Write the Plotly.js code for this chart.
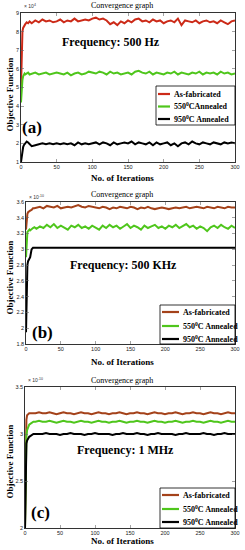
<!DOCTYPE html>
<html><head><meta charset="utf-8">
<script src="https://cdn.plot.ly/plotly-3.0.1.min.js"></script>
<style>html,body{margin:0;padding:0;background:#fff}#c{width:245px;height:550px}</style>
</head><body><div id="c"></div>
<script>
// ---- data ----
const iterations = [0,1,2,3,4,5,6,8,10,12,15,20,25,30,35,40,45,50,55,60,65,70,75,80,85,90,95,100,105,110,115,120,125,130,135,140,145,150,155,160,165,170,175,180,185,190,195,200,205,210,215,220,225,230,235,240,245,250,255,260,265,270,275,280,285,290,295,300];

// Panel (a) 500 Hz, units of 1e4
const a_asfab = [5.0,7.2,8.0,8.2,8.3,8.35,8.4,8.5,8.45,8.55,
 8.45,8.6,8.5,8.65,8.55,8.6,8.5,8.55,8.65,8.5,8.6,8.55,8.7,8.55,8.6,8.65,8.6,8.7,8.75,8.65,8.7,8.6,8.4,8.5,8.35,8.55,8.45,8.6,8.5,8.65,8.7,8.55,8.6,8.5,8.65,8.55,8.6,8.45,8.55,8.6,8.5,8.7,8.35,8.6,8.55,8.5,8.6,8.45,8.55,8.6,8.5,8.55,8.45,8.6,8.5,8.4,8.55,8.6];
const a_550 = [4.2,5.0,5.4,5.6,5.7,5.75,5.7,5.75,5.8,5.7,
 5.75,5.8,5.7,5.75,5.8,5.7,5.75,5.8,5.75,5.7,5.8,5.65,5.75,5.8,5.7,5.75,5.85,5.8,5.75,5.85,5.8,5.7,5.85,5.75,5.8,5.7,5.75,5.8,5.7,5.85,5.9,5.8,5.75,5.85,5.7,5.8,5.75,5.7,5.8,5.75,5.85,5.7,5.8,5.75,5.7,5.8,5.75,5.85,5.7,5.8,5.75,5.8,5.7,5.85,5.75,5.8,5.7,5.75];
const a_950 = [1.0,1.4,1.6,1.8,1.9,1.95,2.0,2.1,2.05,1.95,
 1.85,1.9,1.95,2.0,1.95,2.0,1.95,2.0,1.95,2.0,1.95,2.0,1.9,2.05,1.95,2.0,1.95,2.0,2.05,1.95,2.05,2.0,1.9,2.05,1.95,2.0,2.05,2.0,2.1,1.95,2.05,2.0,1.95,2.05,1.9,2.05,1.95,2.0,2.05,1.9,2.0,1.85,2.0,2.05,1.95,2.1,2.0,1.95,2.05,2.0,1.95,2.05,2.0,1.95,2.05,2.0,2.05,2.0];

// Panel (b) 500 KHz, units of 1e-10
const b_asfab = [3.25,3.4,3.45,3.47,3.48,3.48,3.49,3.5,3.52,3.52,
 3.53,3.54,3.52,3.55,3.54,3.53,3.55,3.52,3.53,3.54,3.53,3.55,3.56,3.54,3.53,3.55,3.54,3.53,3.52,3.54,3.53,3.51,3.53,3.52,3.54,3.53,3.52,3.54,3.53,3.51,3.53,3.52,3.54,3.52,3.51,3.52,3.53,3.52,3.51,3.52,3.53,3.52,3.53,3.54,3.52,3.53,3.54,3.53,3.52,3.54,3.53,3.52,3.54,3.53,3.52,3.54,3.53,3.53];
const b_550 = [2.9,3.15,3.22,3.23,3.24,3.25,3.24,3.26,3.27,3.28,
 3.26,3.29,3.27,3.31,3.28,3.32,3.27,3.3,3.28,3.25,3.3,3.28,3.31,3.27,3.29,3.26,3.3,3.28,3.25,3.3,3.27,3.31,3.28,3.3,3.26,3.29,3.32,3.27,3.3,3.28,3.25,3.3,3.27,3.29,3.31,3.27,3.29,3.26,3.3,3.28,3.31,3.27,3.29,3.32,3.28,3.3,3.26,3.29,3.27,3.23,3.28,3.3,3.27,3.31,3.28,3.26,3.3,3.27];
const b_950 = [1.95,2.6,2.8,2.85,2.87,2.88,2.9,3.0,3.02,3.02,
 3.02,3.02,3.02,3.02,3.02,3.02,3.02,3.02,3.02,3.02,3.02,3.02,3.02,3.02,3.02,3.02,3.02,3.02,3.02,3.02,3.02,3.02,3.02,3.02,3.02,3.02,3.02,3.02,3.02,3.02,3.02,3.02,3.02,3.02,3.02,3.02,3.02,3.02,3.02,3.02,3.02,3.02,3.02,3.02,3.02,3.02,3.02,3.02,3.02,3.02,3.02,3.02,3.02,3.02,3.02,3.02,3.02,3.02];

// Panel (c) 1 MHz, units of 1e-10
const c_asfab = [2.0,2.9,3.15,3.2,3.21,3.22,3.22,3.22,3.22,3.22,
 3.22,3.23,3.22,3.22,3.23,3.22,3.21,3.22,3.23,3.22,3.22,3.21,3.22,3.23,3.22,3.22,3.21,3.22,3.23,3.22,3.22,3.21,3.22,3.22,3.23,3.22,3.21,3.22,3.22,3.23,3.22,3.22,3.21,3.22,3.23,3.22,3.22,3.21,3.22,3.22,3.23,3.22,3.21,3.22,3.22,3.23,3.22,3.22,3.21,3.22,3.23,3.22,3.22,3.21,3.22,3.23,3.22,3.22];
const c_550 = [2.0,2.85,2.98,3.04,3.07,3.09,3.1,3.11,3.12,3.13,
 3.13,3.14,3.13,3.13,3.14,3.13,3.12,3.13,3.14,3.13,3.13,3.12,3.13,3.14,3.13,3.13,3.12,3.13,3.14,3.13,3.13,3.12,3.13,3.13,3.14,3.13,3.12,3.13,3.13,3.14,3.13,3.13,3.12,3.13,3.14,3.13,3.13,3.12,3.13,3.13,3.14,3.13,3.12,3.13,3.13,3.14,3.13,3.13,3.12,3.13,3.14,3.13,3.13,3.12,3.13,3.14,3.13,3.13];
const c_950 = [2.0,2.8,2.9,2.93,2.95,2.96,2.97,2.98,2.99,3.0,
 3.0,3.0,3.0,3.01,3.0,3.0,3.0,2.99,3.0,3.0,3.01,3.0,3.0,3.0,2.99,3.0,3.0,3.01,3.0,3.0,3.0,3.0,2.99,3.0,3.0,3.01,3.0,3.0,3.0,3.01,3.0,3.0,2.99,3.0,3.0,3.01,3.0,3.0,3.0,3.0,2.99,3.0,3.0,3.01,3.0,3.0,3.0,3.0,3.01,3.0,3.0,2.99,3.0,3.0,3.01,3.0,3.0,3.0];

const seriesNames = ["As-fabricated","550<sup>0</sup>C Annealed","950<sup>0</sup>C Annealed"];
const seriesNamesA = ["As-fabricated","550<sup>0</sup>CAnnealed","950<sup>0</sup>C Annealed"];
const frequencies = ["Frequency: 500 Hz","Frequency: 500 KHz","Frequency: 1 MHz"];
const panelLabels = ["(a)","(b)","(c)"];
const exponents = ["× 10<sup>4</sup>","× 10<sup>-10</sup>","× 10<sup>-10</sup>"];

// ---- layout helpers ----
const W=245,H=550;
const px=x=>x/W, py=y=>1-y/H;
const SERIF="Liberation Serif, Times New Roman, serif";
const SANS="Liberation Sans, Arial, sans-serif";
const colA=["#cc2a18","#4fc61c","#000000"];
const colB=["#a4421a","#4fc61c","#000000"];

const traces=[];
function addPanel(k, ys, cols){
  const xa = k===0?'x':'x'+(k+1), ya = k===0?'y':'y'+(k+1);
  ys.forEach((y,i)=>traces.push({x:iterations,y:y,xaxis:xa,yaxis:ya,type:'scatter',mode:'lines',
    line:{color:cols[i],width:2},showlegend:false,hoverinfo:'skip'}));
}
addPanel(0,[a_asfab,a_550,a_950],colA);
addPanel(1,[b_asfab,b_550,b_950],colB);
addPanel(2,[c_asfab,c_550,c_950],colB);

const axBase={showline:true,linecolor:'#000',linewidth:0.8,mirror:'ticks',ticks:'inside',ticklen:3,tickwidth:0.6,tickcolor:'#666',
  showgrid:false,zeroline:false,tickfont:{family:SANS,size:5.5,color:'#222'},automargin:false};

const panels=[
  {x0:21,x1:235,top:13,bot:162,yr:[1,9],dt:1,title:6,xt:178,yt:95,freq:[111,42],lab:[32,127],exp:[22,6],
   leg:{x0:156,x1:235,y0:86,y1:125,rows:[94,106.5,119],l0:158,l1:170,t:172},cols:colA,names:seriesNamesA},
  {x0:26,x1:235,top:202,bot:344,yr:[1.8,3.6],dt:0.2,title:195,xt:362,yt:278,freq:[124,265],lab:[42,332],exp:[27,197],
   leg:{x0:160,x1:235,y0:305,y1:344,rows:[312,326,339],l0:162,l1:179,t:181},cols:colB,names:seriesNames},
  {x0:25,x1:235,top:387,bot:528,yr:[2,3.5],dt:0.5,title:380,xt:541,yt:462,freq:[125,450],lab:[40,512],exp:[26,380],
   leg:{x0:160,x1:235,y0:488,y1:528,rows:[495,509,522],l0:162,l1:179,t:181},cols:colB,names:seriesNames}
];

const layout={width:W,height:H,margin:{l:0,r:0,t:0,b:0},paper_bgcolor:'#fff',plot_bgcolor:'#fff',showlegend:false,
  annotations:[],shapes:[]};
function ann(x,y,text,font,extra){
  return Object.assign({xref:'paper',yref:'paper',x:px(x),y:py(y),text:text,showarrow:false,xanchor:'center',yanchor:'middle',font:font},extra||{});
}
panels.forEach((p,k)=>{
  const s=k===0?'':(k+1);
  layout['xaxis'+s]=Object.assign({},axBase,{domain:[px(p.x0),px(p.x1)],range:[0,300],dtick:50,tick0:0,anchor:'y'+s});
  layout['yaxis'+s]=Object.assign({},axBase,{domain:[py(p.bot),py(p.top)],range:p.yr,dtick:p.dt,tick0:p.yr[0],anchor:'x'+s});
  const A=layout.annotations;
  A.push(ann(122,p.title,'Convergence graph',{family:SERIF,size:8,color:'#000'}));
  A.push(ann(122,p.xt,'<b>No. of Iterations</b>',{family:SERIF,size:9,color:'#000'}));
  A.push(ann(9.5,p.yt,'<b>Objective Function</b>',{family:SERIF,size:9,color:'#000'},{textangle:-90}));
  A.push(ann(p.freq[0],p.freq[1],'<b>'+frequencies[k]+'</b>',{family:SERIF,size:12,color:'#000'}));
  A.push(ann(p.lab[0],p.lab[1],'<b>'+panelLabels[k]+'</b>',{family:SERIF,size:17,color:'#000'}));
  A.push(ann(p.exp[0],p.exp[1],exponents[k],{family:SANS,size:5,color:'#333'},{xanchor:'left'}));
  const L=p.leg;
  layout.shapes.push({type:'rect',xref:'paper',yref:'paper',x0:px(L.x0),x1:px(L.x1),y0:py(L.y1),y1:py(L.y0),line:{color:'#000',width:0.8},fillcolor:'#fff',layer:'above'});
  L.rows.forEach((r,i)=>{
    layout.shapes.push({type:'line',xref:'paper',yref:'paper',x0:px(L.l0),x1:px(L.l1),y0:py(r),y1:py(r),line:{color:p.cols[i],width:2.2},layer:'above'});
    A.push(ann(L.t,r,'<b>'+p.names[i]+'</b>',{family:SERIF,size:8,color:'#000'},{xanchor:'left'}));
  });
});
Plotly.newPlot('c',traces,layout,{staticPlot:true,displayModeBar:false});
</script></body></html>
